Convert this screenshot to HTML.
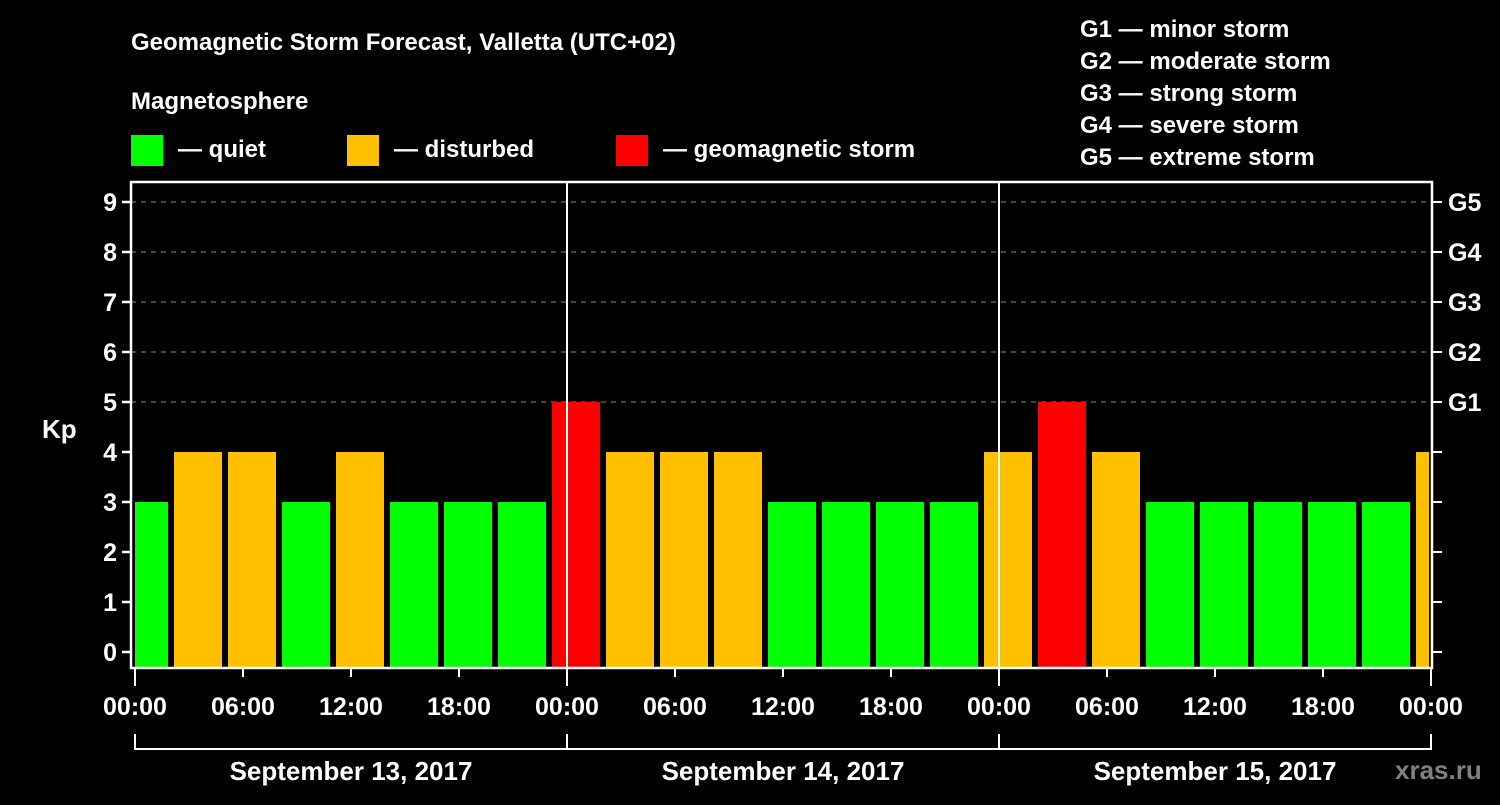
<!DOCTYPE html>
<html><head><meta charset="utf-8"><style>
body{margin:0;background:#000;}
svg text{font-family:"Liberation Sans",Arial,sans-serif;font-weight:bold;fill:#fff;}
</style></head><body>
<svg id="c" width="1500" height="800" xmlns="http://www.w3.org/2000/svg">
<rect width="1500" height="800" fill="#000"/>
<text x="131" y="50" font-size="24">Geomagnetic Storm Forecast, Valletta (UTC+02)</text>
<text x="131" y="109" font-size="24">Magnetosphere</text>
<g><rect x="131" y="135" width="32" height="31" fill="#00ff00"/><text x="178" y="157" font-size="24">— quiet</text></g>
<g><rect x="347" y="135" width="32" height="31" fill="#ffc000"/><text x="394" y="157" font-size="24">— disturbed</text></g>
<g><rect x="616" y="135" width="32" height="31" fill="#ff0000"/><text x="663" y="157" font-size="24">— geomagnetic storm</text></g>
<g font-size="24">
<text x="1080" y="37">G1 — minor storm</text><text x="1080" y="69">G2 — moderate storm</text><text x="1080" y="101">G3 — strong storm</text><text x="1080" y="133">G4 — severe storm</text><text x="1080" y="165">G5 — extreme storm</text></g>
<text x="42" y="438" font-size="26">Kp</text>
<g id="grid"></g><g id="bars"></g><g id="axes"></g>
<text x="1395" y="779" font-size="26" fill="#808080" style="fill:#808080">xras.ru</text>
</svg>
<script>
const kpValues=[3,4,4,3,4,3,3,3,5,4,4,4,3,3,3,3,4,5,4,3,3,3,3,3,4];
const yTicks=[0,1,2,3,4,5,6,7,8,9];
const gLabels=["G1","G2","G3","G4","G5"];
const gLevels=[5,6,7,8,9];
const xTickLabels=["00:00","06:00","12:00","18:00","00:00","06:00","12:00","18:00","00:00","06:00","12:00","18:00","00:00"];
const dayLabels=["September 13, 2017","September 14, 2017","September 15, 2017"];
const NS="http://www.w3.org/2000/svg";
const L=131,R=1432,T=182,B=668,X0=135,PX_H=18;
const y=v=>652-50*v;
const x=h=>X0+h*PX_H;
function mk(tag,attrs,parent,txt){const e=document.createElementNS(NS,tag);for(const k in attrs)e.setAttribute(k,attrs[k]);if(txt!=null)e.textContent=txt;document.getElementById(parent).appendChild(e);return e;}
const col=v=>v>=5?"#ff0000":v>=4?"#ffc000":"#00ff00";
// grid
[5,6,7,8,9].forEach(v=>{const l=mk("line",{x1:L,x2:R,y1:y(v),y2:y(v),stroke:"#888","stroke-dasharray":"5,5","stroke-width":1},"grid");

});
// bars
kpValues.forEach((v,i)=>{const cx=x(i*3+0.5);let x1=Math.max(cx-24,L+4),x2=Math.min(cx+24,R-3);
const r=mk("rect",{x:x1,y:y(v),width:x2-x1,height:B-y(v),fill:col(v)},"bars");

});
// day separators
[1,2].forEach(d=>{const l=mk("line",{x1:x(d*24),x2:x(d*24),y1:T,y2:B,stroke:"#fff","stroke-width":2},"axes");

});
// frame
const f=mk("rect",{x:L,y:T,width:R-L,height:B-T,fill:"none",stroke:"#fff","stroke-width":2.5},"axes");


yTicks.forEach(v=>{mk("line",{x1:L-9,x2:L,y1:y(v),y2:y(v),stroke:"#fff","stroke-width":2.5},"axes");
mk("line",{x1:R,x2:R+10,y1:y(v),y2:y(v),stroke:"#fff","stroke-width":2},"axes");
const t=mk("text",{x:L-14,y:y(v)+9,"font-size":25,"text-anchor":"end"},"axes",v);

});
gLabels.forEach((g,i)=>{const t=mk("text",{x:1448,y:y(gLevels[i])+9,"font-size":25},"axes",g);

});
xTickLabels.forEach((s,i)=>{const xx=x(i*6);const major=i%4===0;
mk("line",{x1:xx,x2:xx,y1:B,y2:B+(major?18:9),stroke:"#fff","stroke-width":2},"axes");
const t=mk("text",{x:xx,y:715,"font-size":25,"text-anchor":"middle"},"axes",s);

});
mk("line",{x1:x(0),x2:x(72),y1:749,y2:749,stroke:"#fff","stroke-width":2},"axes");
[0,1,2,3].forEach(d=>mk("line",{x1:x(d*24),x2:x(d*24),y1:734,y2:750,stroke:"#fff","stroke-width":2},"axes"));
dayLabels.forEach((s,i)=>{const t=mk("text",{x:x(i*24+12),y:780,"font-size":26,"text-anchor":"middle"},"axes",s);

});
</script>
</body></html>
